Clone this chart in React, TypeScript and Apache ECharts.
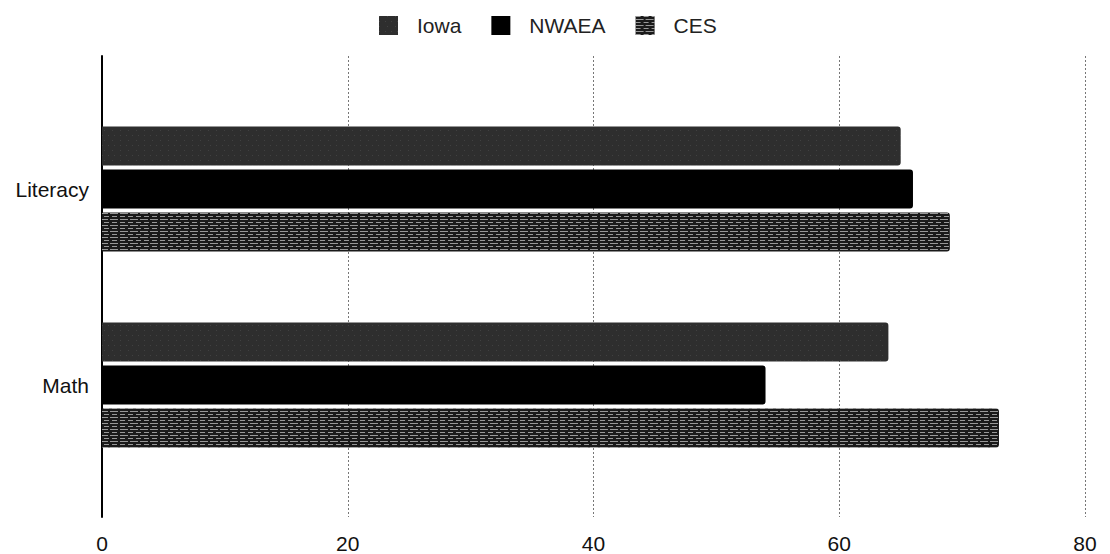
import React, { useEffect, useRef } from "react";
import * as echarts from "echarts";

const categories = ["Literacy", "Math"];
const seriesNames = ["Iowa", "NWAEA", "CES"];
const iowaValues = [65, 64];
const nwaeaValues = [66, 54];
const cesValues = [69, 73];
const xTicks = [0, 20, 40, 60, 80];

export default function App() {
  const ref = useRef<HTMLDivElement>(null);
  useEffect(() => {
    if (!ref.current) return;
    const chart = echarts.init(ref.current, undefined, { renderer: "svg" });
    const font = "Liberation Sans, Arial, sans-serif";
    const xMin = xTicks[0];
    const xMax = xTicks[xTicks.length - 1];
    const interval = xTicks[1] - xTicks[0];
    chart.setOption({
      animation: false,
      aria: { enabled: false, decal: { show: false } },
      legend: {
        top: 10,
        left: 374,
        itemWidth: 19,
        itemHeight: 19,
        itemGap: 30,
        icon: "rect",
        textStyle: { fontFamily: font, fontSize: 21, color: "#222", padding: [0, 0, 0, 14] },
        data: seriesNames,
      },
      grid: [
        { left: 102, right: 25, top: 56, bottom: 36 },
        { left: 102, right: 25, top: 91, bottom: 71 },
      ],
      xAxis: [
        {
          type: "value",
          gridIndex: 0,
          min: xMin,
          max: xMax,
          interval,
          axisLine: { show: false },
          axisTick: { show: false },
          axisLabel: { fontFamily: font, fontSize: 21, color: "#111", margin: 16 },
          splitLine: { show: true, lineStyle: { color: "#777", type: [2, 2], width: 1 } },
        },
        {
          type: "value",
          gridIndex: 1,
          min: xMin,
          max: xMax,
          interval,
          show: false,
          splitLine: { show: false },
        },
      ],
      yAxis: [
        {
          type: "category",
          gridIndex: 0,
          data: categories,
          axisLine: { show: true, lineStyle: { color: "#000", width: 2 } },
          axisTick: { show: false },
          axisLabel: { show: false },
          splitLine: { show: false },
        },
        {
          type: "category",
          gridIndex: 1,
          data: categories,
          inverse: true,
          axisLine: { show: false },
          axisTick: { show: false },
          axisLabel: { fontFamily: font, fontSize: 21, color: "#111", margin: 13 },
          splitLine: { show: false },
        },
      ],
      series: [
        {
          name: seriesNames[0],
          type: "bar",
          xAxisIndex: 1,
          yAxisIndex: 1,
          data: iowaValues,
          barWidth: 39,
          barGap: "10%",
          itemStyle: {
            color: "#2e2e2e",
            borderRadius: [0, 3, 3, 0],
            decal: {
              symbol: "rect",
              symbolSize: 0.5,
              dashArrayX: [[1, 5], [1, 7]],
              dashArrayY: [1, 4],
              rotation: 0,
              color: "rgba(255,255,255,0.35)",
            },
          },
        },
        {
          name: seriesNames[1],
          type: "bar",
          xAxisIndex: 1,
          yAxisIndex: 1,
          data: nwaeaValues,
          barWidth: 39,
          barGap: "10%",
          itemStyle: { color: "#000", borderRadius: [0, 3, 3, 0] },
        },
        {
          name: seriesNames[2],
          type: "bar",
          xAxisIndex: 1,
          yAxisIndex: 1,
          data: cesValues,
          barWidth: 39,
          barGap: "10%",
          itemStyle: {
            color: "#1a1a1a",
            borderRadius: [0, 3, 3, 0],
            decal: {
              symbol: "rect",
              symbolSize: 1,
              dashArrayX: [[8, 2], [5, 3]],
              dashArrayY: [1, 2],
              rotation: 0,
              color: "rgba(255,255,255,0.55)",
            },
          },
        },
      ],
    });
    return () => chart.dispose();
  }, []);
  return (
    <div
      ref={ref}
      style={{ position: "fixed", left: 0, top: 0, width: 1110, height: 554, background: "#fff" }}
    />
  );
}
